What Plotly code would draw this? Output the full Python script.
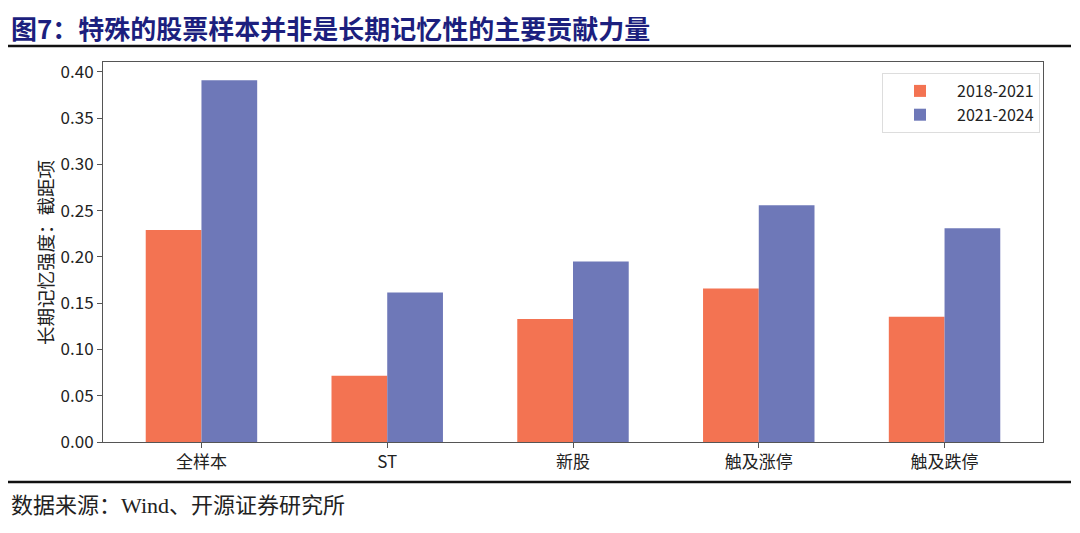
import plotly.graph_objects as go

categories = ["全样本", "ST", "新股", "触及涨停", "触及跌停"]
series_names = ["2018-2021", "2021-2024"]
values_2018_2021 = [0.229, 0.0715, 0.133, 0.166, 0.1355]
values_2021_2024 = [0.391, 0.1615, 0.195, 0.256, 0.231]
y_tickvals = [0.00, 0.05, 0.10, 0.15, 0.20, 0.25, 0.30, 0.35, 0.40]
y_ticktext = ["0.00", "0.05", "0.10", "0.15", "0.20", "0.25", "0.30", "0.35", "0.40"]

title_text = "图7：特殊的股票样本并非是长期记忆性的主要贡献力量"
source_text = "数据来源：Wind、开源证券研究所"
ytitle_text = "长期记忆强度：截距项"

ORANGE = "#F37352"
BLUE = "#6E78B8"
CJK = "Noto Sans CJK SC, Noto Sans, sans-serif"

fig = go.Figure()
fig.add_trace(go.Bar(x=categories, y=values_2018_2021, name=series_names[0],
                     marker=dict(color=ORANGE, line=dict(width=0))))
fig.add_trace(go.Bar(x=categories, y=values_2021_2024, name=series_names[1],
                     marker=dict(color=BLUE, line=dict(width=0))))

# page has an 8px body margin; work in page pixels and convert
OFF = 8
W, H = 1064, 517
PL, PR, PT, PB = 103, 1043, 62, 442  # plot area in page pixels
L = PL - OFF
T = PT - OFF
R = W - (PR - OFF)
B = H - (PB - OFF)
pw = PR - PL
ph = PB - PT


def px(xp):
    return (xp - PL) / pw


def py(yp):
    return (PB - yp) / ph


fig.update_layout(
    width=W, height=H,
    margin=dict(l=L, r=R, t=T, b=B, pad=0),
    paper_bgcolor="white", plot_bgcolor="white",
    barmode="group", bargap=0.4, bargroupgap=0,
    font=dict(family=CJK, size=16, color="#222222"),
    showlegend=True,
    legend=dict(
        x=px(1040), y=py(73), xanchor="right", yanchor="top",
        bgcolor="white", bordercolor="#DDDDDD", borderwidth=1,
        font=dict(family=CJK, size=16, color="#222222"),
        itemwidth=64, tracegroupgap=2,
    ),
    xaxis=dict(
        range=[-0.53, 4.53], showline=True, mirror=True, linecolor="#555555",
        linewidth=1, ticks="outside", ticklen=5, tickcolor="#555555",
        tickfont=dict(family=CJK, size=17, color="#222222"), showgrid=False,
        fixedrange=True,
    ),
    yaxis=dict(
        range=[0, 0.4107], showline=True, mirror=True, linecolor="#555555",
        linewidth=1, ticks="outside", ticklen=5, tickcolor="#555555",
        tickvals=y_tickvals, ticktext=y_ticktext,
        tickfont=dict(family=CJK, size=17, color="#222222"), showgrid=False,
        zeroline=False, fixedrange=True,
    ),
)

# y-axis title
fig.add_annotation(text=ytitle_text, xref="paper", yref="paper",
                   x=px(45), y=py(253), xanchor="center", yanchor="middle",
                   textangle=-90, showarrow=False,
                   font=dict(family=CJK, size=18.5, color="#222222"))

# figure title
fig.add_annotation(text="<b>" + title_text + "</b>", xref="paper", yref="paper",
                   x=px(10), y=py(27), xanchor="left", yanchor="middle",
                   showarrow=False, borderpad=0,
                   font=dict(family=CJK, size=26, color="#1C1F7E"))

# source
fig.add_annotation(text=source_text, xref="paper", yref="paper",
                   x=px(9), y=py(505), xanchor="left", yanchor="middle",
                   showarrow=False,
                   font=dict(family="Liberation Serif, Noto Sans CJK SC, serif", size=22,
                             color="#222222"))

# header / footer rules
for ypix in (46, 482):
    fig.add_shape(type="line", xref="paper", yref="paper",
                  x0=px(8), x1=px(1071), y0=py(ypix), y1=py(ypix),
                  line=dict(color="#111111", width=2.5))

fig.write_html("out.html")
